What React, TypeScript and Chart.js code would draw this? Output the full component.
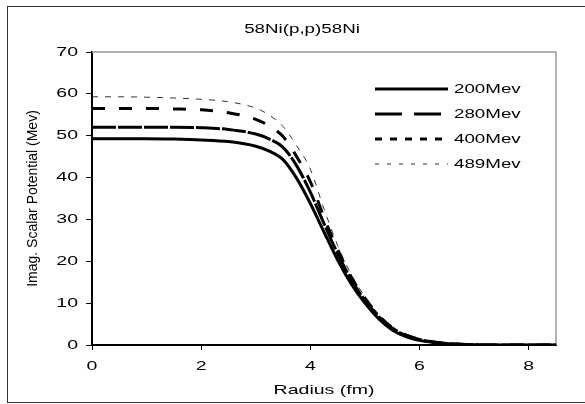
import React, { useEffect, useRef } from 'react';
import { Chart, registerables } from 'chart.js';

Chart.register(...registerables);

// ---- data ----
const chartTitle = '58Ni(p,p)58Ni';
const xTitle = 'Radius (fm)';
const yTitle = 'Imag. Scalar Potential (Mev)';
const seriesNames = ['200Mev', '280Mev', '400Mev', '489Mev'];

const radius = [0, 0.5, 1, 1.5, 2, 2.5, 3, 3.25, 3.5, 3.75, 4, 4.25, 4.5, 4.75, 5, 5.25, 5.5, 5.75, 6, 6.25, 6.5, 7, 7.5, 8, 8.5];
const mev200 = [49.3, 49.3, 49.3, 49.2, 49.0, 48.6, 47.5, 46.3, 44.3, 39.8, 33.8, 27.0, 20.3, 14.6, 10.0, 6.3, 3.6, 2.0, 1.1, 0.6, 0.3, 0.05, 0, 0, 0];
const mev280 = [52.0, 52.0, 52.0, 52.0, 51.9, 51.5, 50.4, 49.2, 47.2, 42.8, 36.5, 29.0, 21.8, 15.6, 10.7, 6.8, 4.0, 2.3, 1.3, 0.7, 0.35, 0.05, 0, 0, 0];
const mev400 = [56.5, 56.5, 56.5, 56.4, 56.2, 55.5, 53.9, 52.3, 49.8, 45.0, 39.0, 30.5, 22.8, 16.2, 11.2, 7.1, 4.2, 2.4, 1.4, 0.75, 0.4, 0.05, 0, 0, 0];
const mev489 = [59.3, 59.3, 59.2, 59.0, 58.7, 58.1, 56.6, 54.9, 52.2, 47.6, 42.0, 32.5, 23.8, 16.8, 11.6, 7.4, 4.4, 2.5, 1.45, 0.8, 0.4, 0.05, 0, 0, 0];

const xMin = 0;
const xMax = 8.5;
const xStep = 2;
const yMin = 0;
const yMax = 70;
const yStep = 10;

// ---- styles ----
const FONT = "'Liberation Sans', Arial, sans-serif";
const STRETCH = 1.5; // reference text is horizontally stretched
const lineStyles = [
  { color: '#000000', width: 3, dash: [] as number[], legendDash: [] as number[] },
  { color: '#000000', width: 3, dash: [24, 2], legendDash: [27, 12] },
  { color: '#000000', width: 3, dash: [13, 14], legendDash: [7, 8] },
  { color: '#333333', width: 1, dash: [6, 7], legendDash: [4, 8] },
];

function patchStretch(ctx: CanvasRenderingContext2D) {
  const anyCtx = ctx as any;
  if (anyCtx.__stretched) return;
  anyCtx.__stretched = true;
  const orig = ctx.fillText.bind(ctx);
  anyCtx.fillText = (text: string, x: number, y: number, maxWidth?: number) => {
    const m = ctx.getTransform();
    if (Math.abs(m.b) > 1e-6 || Math.abs(m.c) > 1e-6) {
      if (maxWidth === undefined) orig(text, x, y);
      else orig(text, x, y, maxWidth);
      return;
    }
    ctx.save();
    ctx.translate(x, y);
    ctx.scale(STRETCH, 1);
    orig(text, 0, 0);
    ctx.restore();
  };
}

const decorPlugin = {
  id: 'decor',
  beforeDraw(chart: any) {
    const ctx: CanvasRenderingContext2D = chart.ctx;
    ctx.save();
    ctx.strokeStyle = '#333333';
    ctx.lineWidth = 1;
    ctx.strokeRect(7.5, 6.5, 620, 396);
    ctx.fillStyle = '#000000';
    ctx.font = `12.5px ${FONT}`;
    ctx.textAlign = 'center';
    ctx.textBaseline = 'middle';
    ctx.fillText(chartTitle, 302, 30);
    ctx.restore();
  },
  beforeDatasetsDraw(chart: any) {
    const ctx: CanvasRenderingContext2D = chart.ctx;
    const a = chart.chartArea;
    ctx.save();
    ctx.strokeStyle = '#999999';
    ctx.lineWidth = 1.5;
    ctx.beginPath();
    ctx.moveTo(a.left, a.top);
    ctx.lineTo(a.right, a.top);
    ctx.lineTo(a.right, a.bottom);
    ctx.stroke();
    ctx.restore();
  },
  afterDraw(chart: any) {
    const ctx: CanvasRenderingContext2D = chart.ctx;
    ctx.save();
    chart.data.datasets.forEach((ds: any, i: number) => {
      const y = 89 + 25 * i;
      const st = lineStyles[i];
      ctx.strokeStyle = ds.borderColor;
      ctx.lineWidth = ds.borderWidth;
      ctx.setLineDash(st.legendDash);
      ctx.lineCap = 'butt';
      ctx.beginPath();
      ctx.moveTo(375, y);
      ctx.lineTo(448, y);
      ctx.stroke();
      ctx.setLineDash([]);
      ctx.fillStyle = '#000000';
      ctx.font = `12.5px ${FONT}`;
      ctx.textAlign = 'left';
      ctx.textBaseline = 'middle';
      ctx.fillText(ds.label, 454, y + 0.5);
    });
    ctx.restore();
  },
};

export default function App() {
  const canvasRef = useRef<HTMLCanvasElement | null>(null);

  useEffect(() => {
    document.body.style.margin = '0';
    const canvas = canvasRef.current;
    if (!canvas) return;
    const ctx = canvas.getContext('2d');
    if (!ctx) return;
    patchStretch(ctx);

    const series = [mev200, mev280, mev400, mev489];
    const datasets = series.map((vals, i) => ({
      label: seriesNames[i],
      data: radius.map((r, k) => ({ x: r, y: vals[k] })),
      borderColor: lineStyles[i].color,
      borderWidth: lineStyles[i].width,
      borderDash: lineStyles[i].dash,
      pointRadius: 0,
      fill: false,
      cubicInterpolationMode: 'monotone' as const,
    }));

    const chart = new Chart(canvas, {
      type: 'line',
      data: { datasets },
      options: {
        animation: false,
        responsive: false,
        devicePixelRatio: 1,
        layout: { padding: { left: 0, top: 52, right: 29, bottom: 0 } },
        plugins: {
          legend: { display: false },
          title: { display: false },
          tooltip: { enabled: false },
        },
        scales: {
          x: {
            type: 'linear',
            min: xMin,
            max: xMax,
            afterFit: (s: any) => { s.height = 59; },
            border: { display: true, color: '#000000', width: 2 },
            grid: { drawOnChartArea: false, drawTicks: true, tickLength: 5, color: '#000000', tickColor: '#000000', lineWidth: 1 },
            ticks: {
              stepSize: xStep,
              includeBounds: false,
              padding: 9,
              color: '#000000',
              font: { family: FONT, size: 13 },
              maxRotation: 0,
            },
            title: {
              display: true,
              text: xTitle,
              color: '#000000',
              font: { family: FONT, size: 13 },
              padding: { top: 0, bottom: 6 },
            },
          },
          y: {
            type: 'linear',
            min: yMin,
            max: yMax,
            afterFit: (s: any) => { s.width = 92; },
            border: { display: true, color: '#000000', width: 2 },
            grid: { drawOnChartArea: false, drawTicks: true, tickLength: 6, color: '#000000', tickColor: '#000000', lineWidth: 1 },
            ticks: {
              stepSize: yStep,
              padding: 8,
              color: '#000000',
              font: { family: FONT, size: 13 },
            },
            title: {
              display: true,
              text: yTitle,
              color: '#000000',
              font: { family: FONT, size: 14 },
              padding: { top: 25, bottom: 0 },
            },
          },
        },
      },
      plugins: [decorPlugin],
    });

    return () => chart.destroy();
  }, []);

  return (
    <div style={{ width: 585, height: 404, position: 'relative' }}>
      <canvas ref={canvasRef} width={585} height={404} style={{ width: 585, height: 404, display: 'block' }} />
    </div>
  );
}
